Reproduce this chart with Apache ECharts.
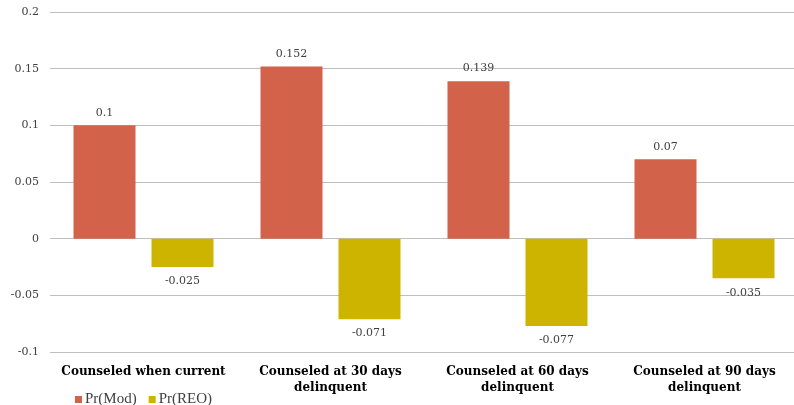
<!DOCTYPE html>
<html>
<head>
<meta charset="utf-8">
<script src="https://cdn.jsdelivr.net/npm/echarts@6/dist/echarts.min.js"></script>
<style>
html,body{margin:0;padding:0;background:#fff;overflow:hidden;width:794px;height:405px;}
#c{width:798px;height:405px;}
</style>
</head>
<body>
<div id="c"></div>
<script>
var categories = ["Counseled when current", "Counseled at 30 days\ndelinquent", "Counseled at 60 days\ndelinquent", "Counseled at 90 days\ndelinquent"];
var prMod = [0.1, 0.152, 0.139, 0.07];
var prREO = [-0.025, -0.071, -0.077, -0.035];
var seriesNames = ["Pr(Mod)", "Pr(REO)"];

var serif = "'DejaVu Serif', 'Liberation Serif', serif";
var times = "'Liberation Serif', serif";
var chart = echarts.init(document.getElementById('c'), null, {renderer: 'canvas'});
function labelCfg() {
  return {
    show: true,
    fontFamily: serif,
    fontSize: 11,
    color: '#404040',
    distance: 7,
    position: 'top'
  };
}
function mkData(arr) {
  return arr.map(function (v) {
    return {value: v, label: v < 0 ? {position: 'bottom', distance: 9} : {position: 'top', distance: 7}};
  });
}
chart.setOption({
  animation: false,
  backgroundColor: '#ffffff',
  grid: {left: 50, right: 0, top: 12, bottom: 53, containLabel: false},
  legend: {
    left: 70, top: 387,
    itemWidth: 7, itemHeight: 7, itemGap: 12,
    icon: 'rect',
    textStyle: {fontFamily: times, fontSize: 15, color: '#404040', padding: [0,0,0,-2]},
    data: seriesNames
  },
  xAxis: {
    type: 'category',
    data: categories,
    axisLine: {show: false},
    axisTick: {show: false},
    axisLabel: {
      interval: 0,
      margin: 12,
      fontFamily: serif,
      fontWeight: 'bold',
      fontSize: 12,
      lineHeight: 16,
      color: '#000'
    }
  },
  yAxis: {
    type: 'value',
    min: -0.1, max: 0.2, interval: 0.05,
    axisLine: {show: false},
    axisTick: {show: false},
    axisLabel: {fontFamily: serif, fontSize: 11, color: '#404040', margin: 11},
    splitLine: {lineStyle: {color: '#BFBFBF', width: 1}}
  },
  series: [
    {name: seriesNames[0], type: 'bar', data: mkData(prMod), itemStyle: {color: '#D2634A'},
     barWidth: 62, barGap: '25.8%', label: labelCfg()},
    {name: seriesNames[1], type: 'bar', data: mkData(prREO), itemStyle: {color: '#CDB400'},
     barWidth: 62, barGap: '25.8%', label: labelCfg()}
  ]
});
</script>
</body>
</html>
